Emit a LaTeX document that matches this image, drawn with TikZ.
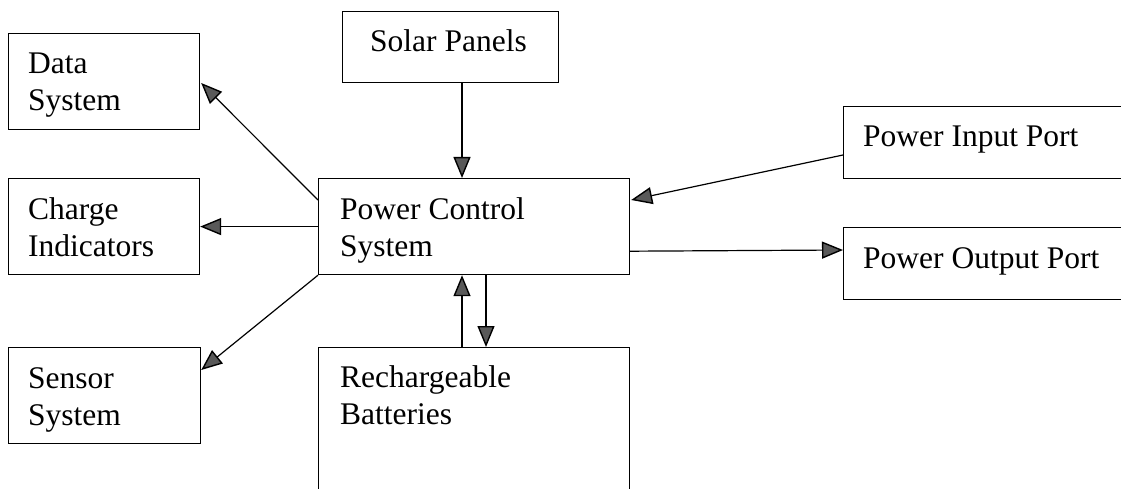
\documentclass[tikz,border=0pt]{standalone}
\usepackage{fontspec}
\setmainfont{Liberation Serif}
\usetikzlibrary{arrows.meta,calc}
\begin{document}
\begin{tikzpicture}[x=1pt,y=-1pt,
  box/.style={draw=black,line width=1.2pt,rectangle,inner sep=0pt,anchor=north west},
  lbl/.style={anchor=base west,inner sep=0pt,align=left,font=\fontsize{31.5}{37}\selectfont},
  arr/.style={draw=black,line width=1.2pt,-{Triangle[length=21pt,width=17pt,fill=gray!70!black,line width=1.4pt]}}]
\useasboundingbox (0,0) rectangle (1121,489);
\clip (0,0) rectangle (1121,489);
\fill[white] (0,0) rectangle (1121,489);
% boxes
\node[box,minimum width=191pt,minimum height=96pt] (data) at (8,33) {};
\node[box,minimum width=216pt,minimum height=71pt] (solar) at (342,11) {};
\node[box,minimum width=191pt,minimum height=96pt] (charge) at (8,178) {};
\node[box,minimum width=311pt,minimum height=96pt] (pcs) at (318,178) {};
\node[box,minimum width=300pt,minimum height=72pt] (input) at (843,106) {};
\node[box,minimum width=300pt,minimum height=72pt] (output) at (843,227) {};
\node[box,minimum width=192pt,minimum height=96pt] (sensor) at (8,347) {};
\node[box,minimum width=311pt,minimum height=160pt] (batt) at (318,347) {};
% labels (base = baseline of the last line)
\node[lbl] (datat) at ($(data.north west)+(20,78)$) {Data\\System};
\node[lbl] (solart) at ($(solar.north west)+(28,41)$) {Solar Panels};
\node[lbl] (charget) at ($(charge.north west)+(20,78)$) {Charge\\Indicators};
\node[lbl] (pcst) at ($(pcs.north west)+(22,78)$) {Power Control\\System};
\node[lbl] (inputt) at ($(input.north west)+(20,41)$) {Power Input Port};
\node[lbl] (outputt) at ($(output.north west)+(20,41)$) {Power Output Port};
\node[lbl] (sensort) at ($(sensor.north west)+(20,78)$) {Sensor\\System};
\node[lbl] (battt) at ($(batt.north west)+(22,77)$) {Rechargeable\\Batteries};
% connectors
\draw[arr] ($(solar.south west)+(120,0)$) -- ($(pcs.north west)+(144,0)$);
\draw[arr] ($(pcs.north west)+(0,22)$) -- ($(data.north east)+(1,50)$);
\draw[arr] (pcs.west) -- (charge.east);
\draw[arr] (pcs.south west) -- ($(sensor.north east)+(0,23)$);
\draw[arr] ($(input.north west)+(0,49)$) -- ($(pcs.north east)+(1,22)$);
\draw[arr] ($(pcs.south east)+(0,-24)$) -- ($(output.north west)+(0,23)$);
\draw[arr] ($(batt.north west)+(144,0)$) -- ($(pcs.south west)+(144,0)$);
\draw[arr] ($(pcs.south west)+(168,0)$) -- ($(batt.north west)+(168,0)$);
\end{tikzpicture}
\end{document}
